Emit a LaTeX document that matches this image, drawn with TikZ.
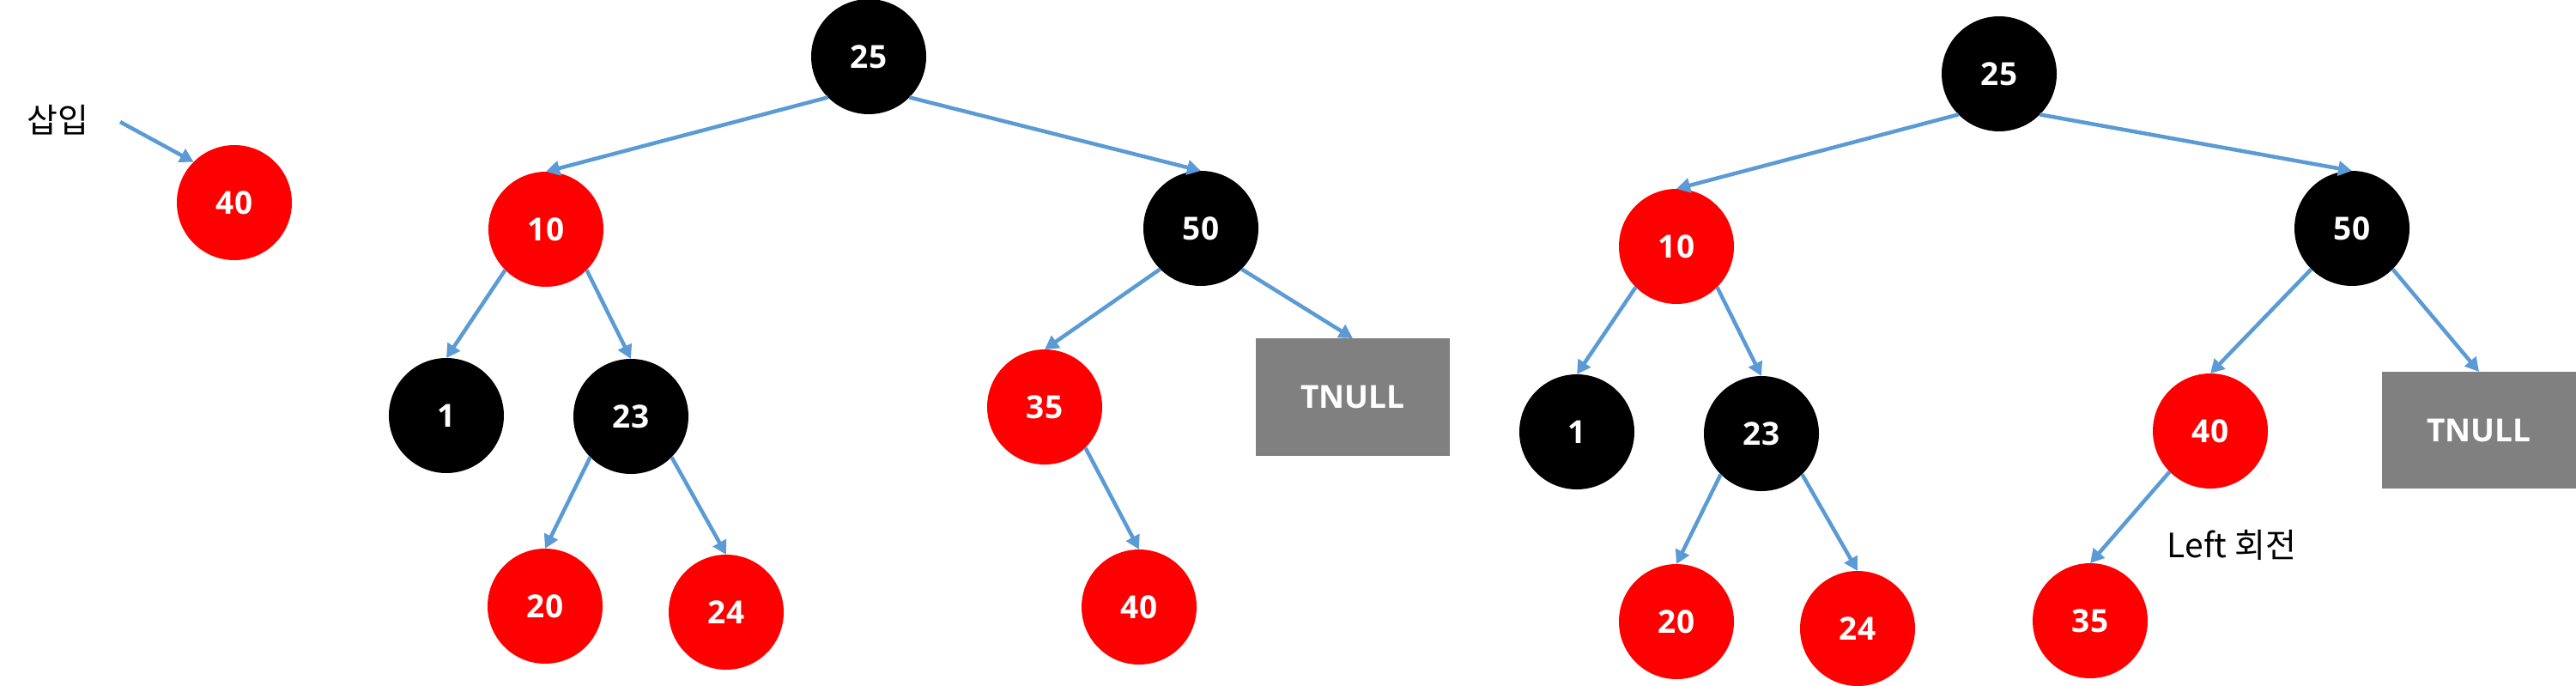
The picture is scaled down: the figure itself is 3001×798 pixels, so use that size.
\documentclass[tikz,border=0pt]{standalone}
\usepackage{fontspec}
\setmainfont{Open Sans}
\newfontfamily\kr{Noto Sans CJK KR}
\usetikzlibrary{arrows.meta}
\definecolor{arrowblue}{HTML}{5B9BD5}
\definecolor{nodered}{HTML}{FF0000}
\definecolor{nullgray}{HTML}{808080}
\tikzset{
  rbnode/.style={circle, minimum size=134pt, inner sep=0pt, outer sep=0pt,
    text=white, font=\fontsize{37}{42}\selectfont\bfseries},
  rednode/.style={rbnode, fill=nodered},
  blacknode/.style={rbnode, fill=black},
  nullbox/.style={rectangle, fill=nullgray, minimum width=226pt, minimum height=137pt,
    inner sep=0pt, outer sep=0pt, text=white, font=\fontsize{37}{42}\selectfont\bfseries},
  label/.style={inner sep=0pt, font=\kr\fontsize{39}{44}\selectfont},
  link/.style={draw=arrowblue, line width=4.5pt, -{Triangle[length=16pt,width=17pt]}}
}
\begin{document}
\begin{tikzpicture}[x=1pt,y=-1pt]
\useasboundingbox (0,0) rectangle (3001,798);
% insertion
\node[label] (ins) at (67,140) {삽입};
\node[rednode] (n40) at (273,236) {40};
\coordinate (insstart) at (140,142);
% tree 1
\node[blacknode] (a25) at (1012,66) {25};
\node[rednode] (a10) at (636,267) {10};
\node[blacknode] (a50) at (1399,266) {50};
\node[blacknode] (a1) at (520,484) {1};
\node[blacknode] (a23) at (735,485) {23};
\node[rednode] (a20) at (635,706) {20};
\node[rednode] (a24) at (846,713) {24};
\node[rednode] (a35) at (1217,474) {35};
\node[nullbox] (aT) at (1576,462.5) {TNULL};
\node[rednode] (a40) at (1327,707) {40};
% tree 2
\node[blacknode] (b25) at (2329,86) {25};
\node[rednode] (b10) at (1953,287) {10};
\node[blacknode] (b50) at (2740,266) {50};
\node[blacknode] (b1) at (1837,503) {1};
\node[blacknode] (b23) at (2052,505) {23};
\node[rednode] (b20) at (1953,724) {20};
\node[rednode] (b24) at (2164,732) {24};
\node[rednode] (b40) at (2575,502) {40};
\node[rednode] (b35) at (2435,723) {35};
\node[nullbox, minimum height=136pt] (bT) at (2888,501) {TNULL};
\node[label] (rot) at (2600,635) {Left 회전};
% connectors
\draw[link] (insstart) -- (n40.north west);
\draw[link] (a25.south west) -- (a10.north);
\draw[link] (a25.south east) -- (a50.north);
\draw[link] (a10.south west) -- (a1.north);
\draw[link] (a10.south east) -- (a23.north);
\draw[link] (a23.south west) -- (a20.north);
\draw[link] (a23.south east) -- (a24.north);
\draw[link] (a50.south west) -- (a35.north);
\draw[link] (a50.south east) -- (aT.north);
\draw[link] (a35.south east) -- (a40.north);
\draw[link] (b25.south west) -- (b10.north);
\draw[link] (b25.south east) -- (b50.north);
\draw[link] (b10.south west) -- (b1.north);
\draw[link] (b10.south east) -- (b23.north);
\draw[link] (b23.south west) -- (b20.north);
\draw[link] (b23.south east) -- (b24.north);
\draw[link] (b50.south west) -- (b40.north);
\draw[link] (b50.south east) -- (bT.north);
\draw[link] (b40.south west) -- (b35.north);
\end{tikzpicture}
\end{document}
